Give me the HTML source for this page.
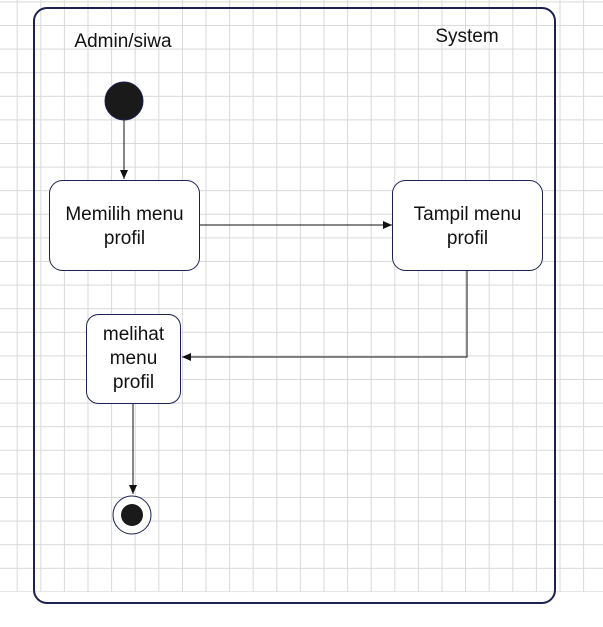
<!DOCTYPE html>
<html><head><meta charset="utf-8"><style>
html,body{margin:0;padding:0;background:#fff;}
</style></head><body>
<svg width="603" height="622" xmlns="http://www.w3.org/2000/svg" font-family="Liberation Sans, sans-serif">
<defs>
<pattern id="g" x="16.7" y="1.4" width="23.6" height="23.6" patternUnits="userSpaceOnUse">
<path d="M0.5 0V23.6M0 0.5H23.6" stroke="#d9d9d9" stroke-width="1" fill="none"/>
</pattern>
<marker id="a" markerWidth="10" markerHeight="10" refX="9" refY="5" orient="auto" markerUnits="userSpaceOnUse">
<path d="M0 1L9 5L0 9Z" fill="#111"/>
</marker>
</defs>
<rect x="0" y="0" width="603" height="592" fill="url(#g)"/>
<rect x="34" y="8" width="521" height="595" rx="13" fill="none" stroke="#1b2150" stroke-width="2"/>
<text x="123" y="47" font-size="19" text-anchor="middle" fill="#111">Admin/siwa</text>
<text x="467" y="42" font-size="19" text-anchor="middle" fill="#111">System</text>
<circle cx="124" cy="101" r="19" fill="#1a1a1a" stroke="#1b2150"/>
<line x1="124" y1="120" x2="124" y2="179" stroke="#111" marker-end="url(#a)"/>
<rect x="49.5" y="180.5" width="150" height="90" rx="13" fill="#fff" stroke="#1b2150"/>
<text x="124.5" y="220" font-size="19" text-anchor="middle" fill="#111">Memilih menu</text>
<text x="124.5" y="244" font-size="19" text-anchor="middle" fill="#111">profil</text>
<line x1="200" y1="225" x2="392" y2="225" stroke="#111" marker-end="url(#a)"/>
<rect x="392.5" y="180.5" width="150" height="90" rx="13" fill="#fff" stroke="#1b2150"/>
<text x="467.5" y="220" font-size="19" text-anchor="middle" fill="#111">Tampil menu</text>
<text x="467.5" y="244" font-size="19" text-anchor="middle" fill="#111">profil</text>
<polyline points="467,271 467,357 182,357" fill="none" stroke="#111" marker-end="url(#a)"/>
<rect x="86.5" y="314.5" width="94" height="89" rx="12" fill="#fff" stroke="#1b2150"/>
<text x="133.5" y="340" font-size="19" text-anchor="middle" fill="#111">melihat</text>
<text x="133.5" y="364" font-size="19" text-anchor="middle" fill="#111">menu</text>
<text x="133.5" y="388" font-size="19" text-anchor="middle" fill="#111">profil</text>
<line x1="133" y1="404" x2="133" y2="494" stroke="#111" marker-end="url(#a)"/>
<circle cx="132" cy="515" r="19" fill="#fff" stroke="#1b2150"/>
<circle cx="132" cy="515" r="11" fill="#1a1a1a"/>
</svg>
</body></html>
